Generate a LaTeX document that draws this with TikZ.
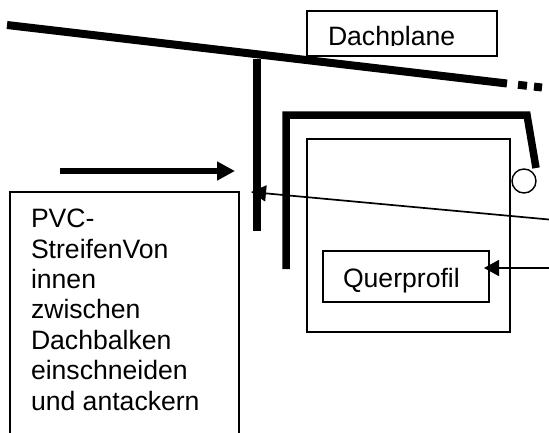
\documentclass[tikz,border=0pt]{standalone}
\usepackage{fontspec}
\setmainfont{Liberation Sans}
\usetikzlibrary{arrows.meta}
\tikzset{
  thinbox/.style={draw=black,line width=1.4pt,fill=none,rectangle,inner sep=0pt,outer sep=0pt},
  label/.style={font=\fontsize{26.6}{30.4}\selectfont,inner sep=0pt,outer sep=0pt,anchor=base west,text=black},
  beam/.style={line width=8pt,line cap=butt,line join=miter,draw=black},
  pointer/.style={draw=black,line width=1.7pt,-{Triangle[length=15pt,width=16pt]}},
  fatpointer/.style={draw=black,line width=6pt,-{Triangle[length=18pt,width=18pt]}}
}
\begin{document}
\begin{tikzpicture}[x=1pt,y=-1pt]
\clip (0,0) rectangle (549,432);
% boxes
\node[thinbox,anchor=north west,minimum width=190pt,minimum height=45pt] (dach) at (307,11) {};
\begin{scope}
\clip (307,11) rectangle (497,45.5);
\node[label] (dachtext) at (328,45) {Dachplane};
\end{scope}
\node[thinbox,anchor=north west,minimum width=203pt,minimum height=193pt] (gross) at (307,139) {};
\node[thinbox,anchor=north west,minimum width=166pt,minimum height=51pt] (quer) at (323,251) {};
\node[label] (quertext) at (343,287) {Querprofil};
\node[thinbox,anchor=north west,minimum width=229pt,minimum height=260pt] (pvc) at (10,192) {};
\node[label,align=left,anchor=north west] (pvctext) at (31,209.2) {PVC-\\StreifenVon\\innen\\zwischen\\Dachbalken\\einschneiden\\und antackern};
\node[draw=black,line width=1.4pt,circle,minimum size=24pt,inner sep=0pt,outer sep=0pt] (kreis) at (524,181) {};
% beams
\coordinate (roofA) at (7,25);
\coordinate (roofB) at (507,83.5);
\coordinate (dotA1) at (518,84.8);
\coordinate (dotA2) at (527,85.8);
\coordinate (dotB1) at (534,86.6);
\coordinate (dotB2) at (542,87.5);
\draw[beam] (roofA) -- (roofB);
\draw[beam] (dotA1) -- (dotA2);
\draw[beam] (dotB1) -- (dotB2);
\coordinate (v1a) at (256.5,59);
\coordinate (v1b) at (256.5,231);
\draw[beam] (v1a) -- (v1b);
\coordinate (v2a) at (286,269);
\coordinate (v2b) at (286,115);
\coordinate (v2c) at (527,115);
\coordinate (v2d) at (536,168);
\draw[beam,line width=7.5pt] (v2a) -- (v2b) -- (v2c) -- (v2d);
% arrows
\coordinate (fatA) at (60,171);
\coordinate (fatB) at (235,171);
\draw[fatpointer] (fatA) -- (fatB);
\coordinate (longA) at (549,219.5);
\coordinate (longB) at (251,192);
\draw[pointer] (longA) -- (longB);
\coordinate (shortA) at (549,268);
\coordinate (shortB) at (484,268);
\draw[pointer] (shortA) -- (shortB);
\end{tikzpicture}
\end{document}
